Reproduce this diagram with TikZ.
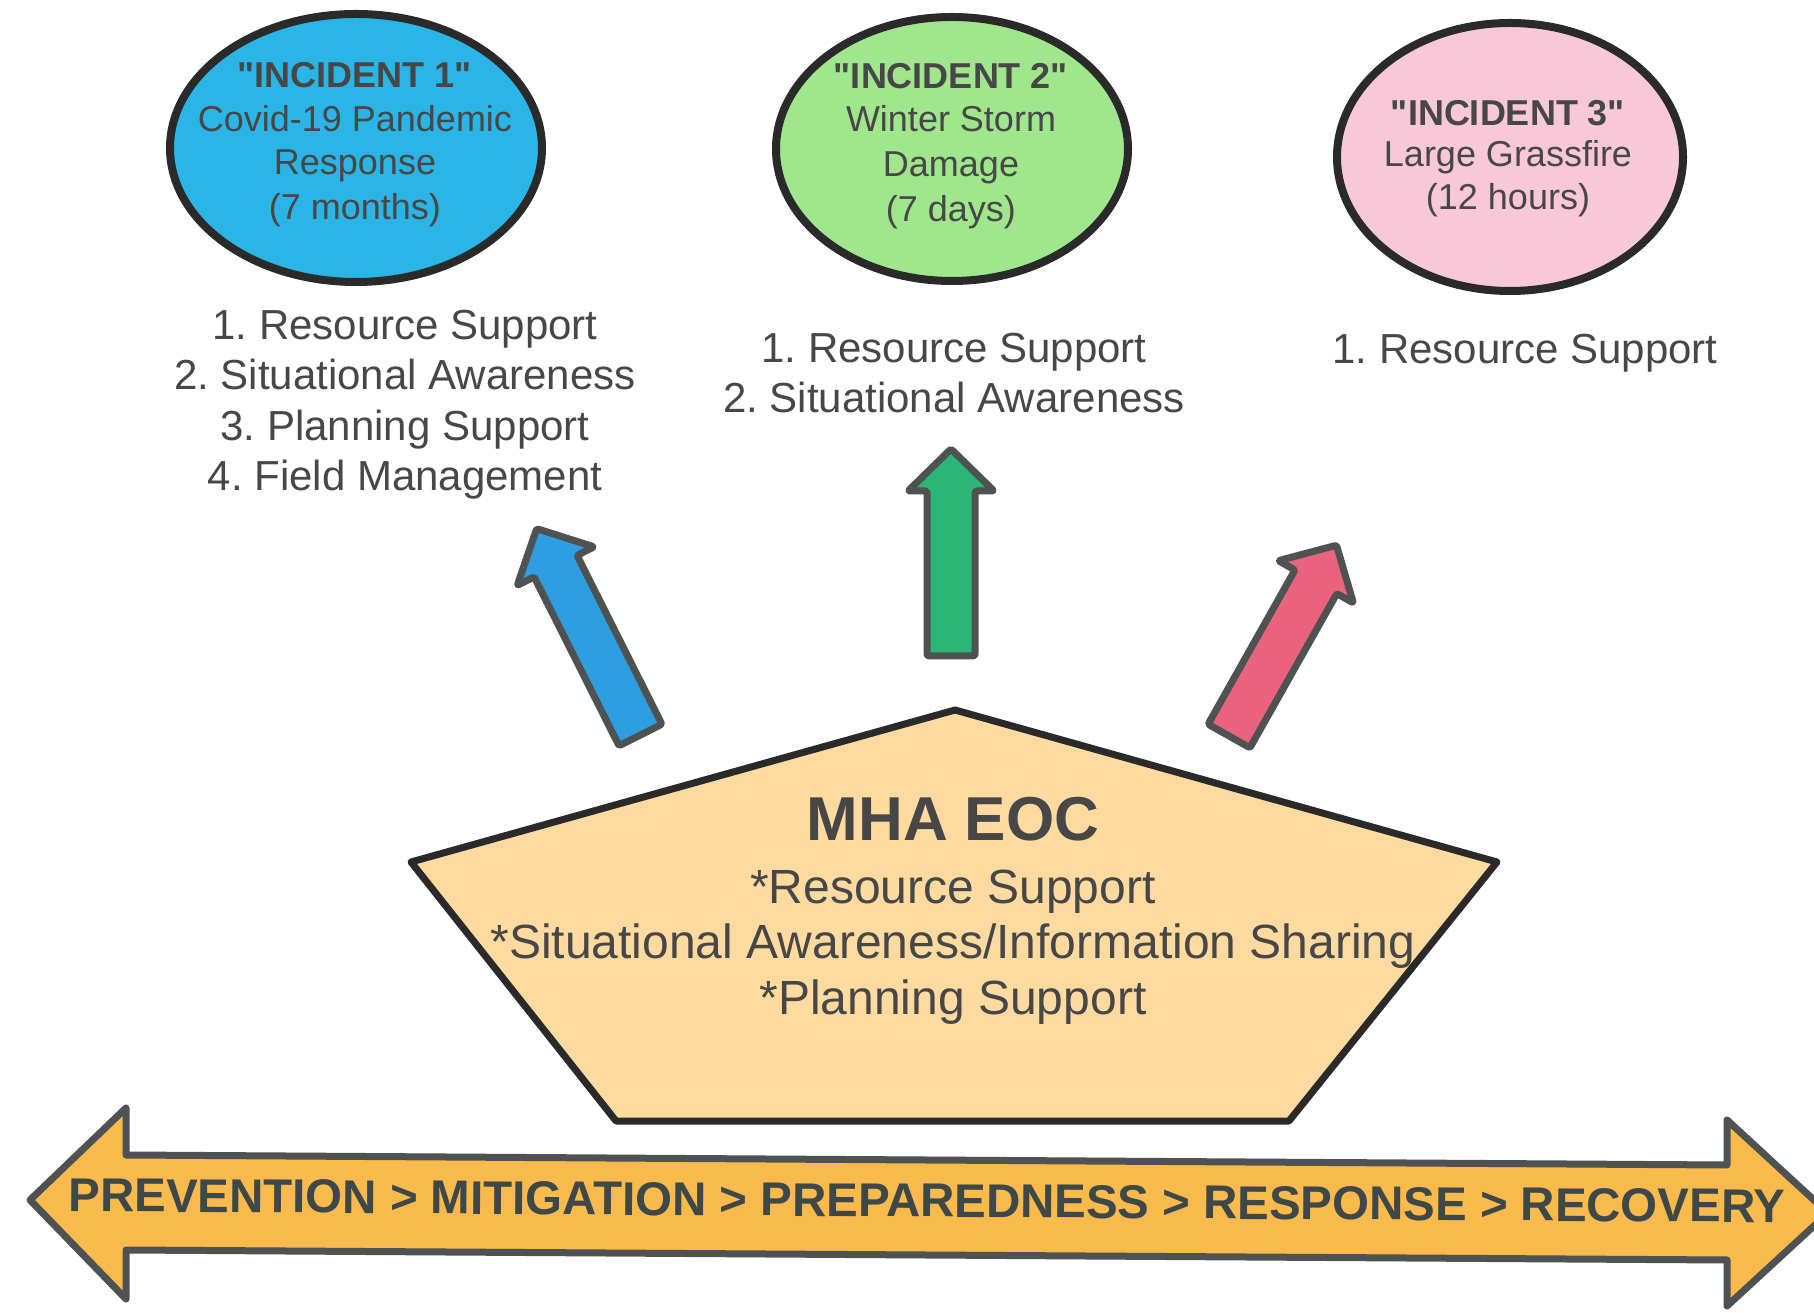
\documentclass[tikz,border=0pt]{standalone}
\usepackage{fontspec}
\setmainfont{Liberation Sans}[Ligatures=TeXOff]
\usetikzlibrary{shapes.geometric}
\definecolor{txt}{HTML}{474747}
\definecolor{btxt}{HTML}{3F4848}
\definecolor{eblue}{HTML}{2BB5E6}
\definecolor{egreen}{HTML}{A0E68C}
\definecolor{epink}{HTML}{F8C8D8}
\definecolor{ablue}{HTML}{2E9EE0}
\definecolor{agreen}{HTML}{2DB673}
\definecolor{ared}{HTML}{E8637B}
\definecolor{aline}{HTML}{4E5252}
\definecolor{pfill}{HTML}{FDDA9F}
\definecolor{bfill}{HTML}{F8BA4C}
\definecolor{outl}{HTML}{2A2A2A}
\newcommand\BlockArrow[5]{%
  \begin{scope}[shift={(#1,#2)},rotate=#3]
    \draw[blockarr,fill=#5] (0,-24) -- ({#4-42},-24) -- ({#4-42},-43) -- (#4,0)
      -- ({#4-42},43) -- ({#4-42},24) -- (0,24) -- cycle;
  \end{scope}}
\frenchspacing
\begin{document}
\begin{tikzpicture}[x=1pt,y=1pt,
  ell/.style={ellipse, draw=outl, line width=8pt, inner sep=0pt},
  etxt/.style={anchor=base, text=txt, inner sep=0pt, font=\fontsize{36}{43}\selectfont},
  ltxt/.style={anchor=base, text=txt, inner sep=0pt, font=\fontsize{42}{50}\selectfont},
  ptxt/.style={anchor=base, text=txt, inner sep=0pt, font=\fontsize{48}{56}\selectfont},
  blockarr/.style={draw=aline, line width=7pt, line join=round, rounded corners=2pt}]
\useasboundingbox (0,0) rectangle (1814,1312);
\fill[white] (0,0) rectangle (1814,1312);

% ellipses
\node[ell, fill=eblue, minimum width=372pt, minimum height=268pt] (e1) at (356,1164) {};
\node[ell, fill=egreen, minimum width=352pt, minimum height=264pt] (e2) at (952,1163) {};
\node[ell, fill=epink, minimum width=346pt, minimum height=268pt] (e3) at (1510,1155) {};

\node[etxt, font=\bfseries\fontsize{36}{43}\selectfont] (e1a) at (355,1224) {"INCIDENT 1"};
\node[etxt] (e1b) at (355,1180) {Covid-19 Pandemic};
\node[etxt] (e1c) at (355,1137) {Response};
\node[etxt] (e1d) at (355,1092) {(7 months)};

\node[etxt, font=\bfseries\fontsize{36}{43}\selectfont] (e2a) at (951,1223) {"INCIDENT 2"};
\node[etxt] (e2b) at (951,1180) {Winter Storm};
\node[etxt] (e2c) at (951,1135) {Damage};
\node[etxt] (e2d) at (951,1090) {(7 days)};

\node[etxt, font=\bfseries\fontsize{36}{43}\selectfont] (e3a) at (1508,1186) {"INCIDENT 3"};
\node[etxt] (e3b) at (1508,1145) {Large Grassfire};
\node[etxt] (e3c) at (1508,1102) {(12 hours)};

% lists
\node[ltxt] (l1a) at (405,972) {1. Resource Support};
\node[ltxt] (l1b) at (405,922) {2. Situational Awareness};
\node[ltxt] (l1c) at (405,871) {3. Planning Support};
\node[ltxt] (l1d) at (405,821) {4. Field Management};

\node[ltxt] (l2a) at (954,949) {1. Resource Support};
\node[ltxt] (l2b) at (954,899) {2. Situational Awareness};

\node[ltxt] (l3a) at (1525,948) {1. Resource Support};

% block arrows
\BlockArrow{640.5}{577}{116.7}{231}{ablue}
\BlockArrow{951}{656}{90}{207}{agreen}
\BlockArrow{1229}{576}{60.6}{219}{ared}

% pentagon
\draw[draw=outl, line width=7pt, line join=round, fill=pfill]
  (955,602) -- (1497,450) -- (1289,191) -- (616,191) -- (411,450) -- cycle;
\node[ptxt, font=\bfseries\fontsize{62}{70}\selectfont] (eoc) at (953,471) {MHA EOC};
\node[ptxt] (p1) at (953,408) {*Resource Support};
\node[ptxt] (p2) at (953,353) {*Situational Awareness/Information Sharing};
\node[ptxt] (p3) at (953,297) {*Planning Support};

% bottom double arrow
\begin{scope}
\clip (0,0) rectangle (1814,1312);
\draw[draw=aline, line width=7pt, line join=round, fill=bfill]
  (30,112) -- (126,204) -- (126,157) -- (1727,147) -- (1727,192) -- (1828,99)
  -- (1727,6) -- (1727,52) -- (126,62) -- (126,13) -- cycle;
\end{scope}
\node[anchor=base, inner sep=0pt, rotate=-0.37, text=btxt,
  font=\bfseries\fontsize{47.4}{50}\selectfont] (phases) at (927,95)
  {PREVENTION > MITIGATION > PREPAREDNESS > RESPONSE > RECOVERY};
\end{tikzpicture}
\end{document}
